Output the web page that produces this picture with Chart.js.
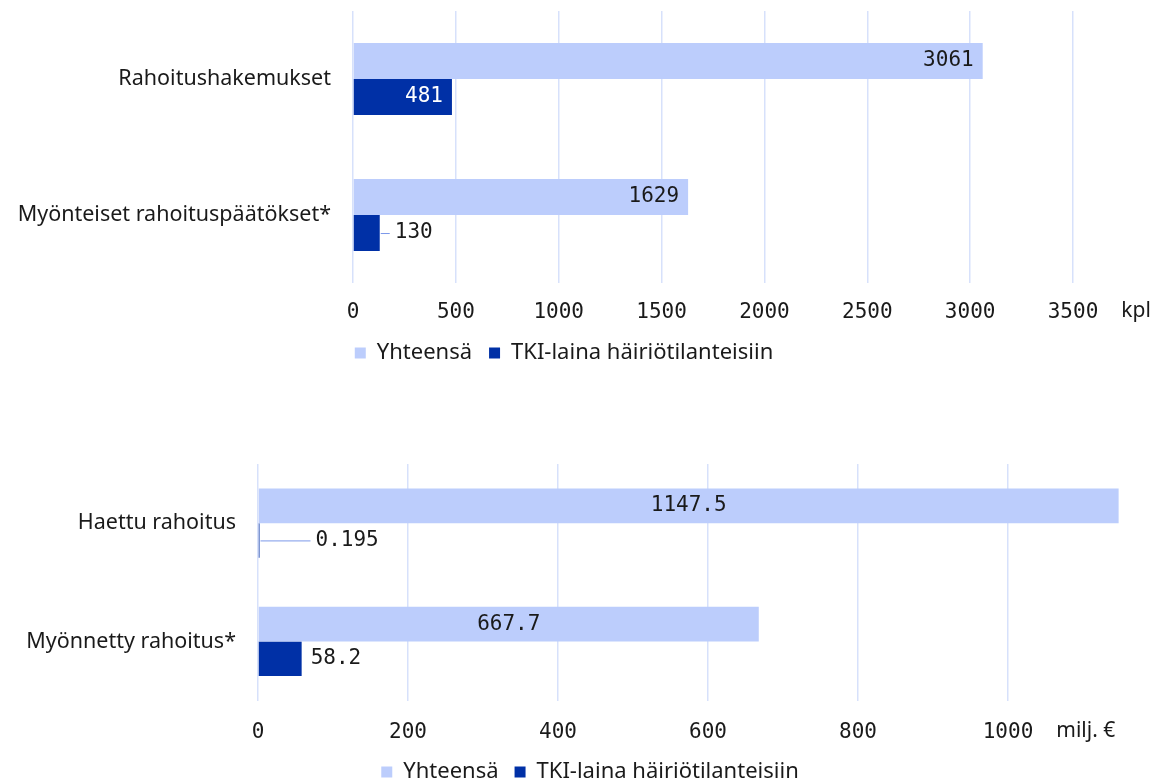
<!DOCTYPE html>
<html lang="fi">
<head>
    <meta charset="UTF-8">
    <title>TKI-laina häiriötilanteisiin</title>
    <script src="https://cdn.jsdelivr.net/npm/chart.js"></script>
    <style>
        body { margin: 0; overflow: hidden; background: #fff; }
        .box { position: absolute; left: 0; }
        #box1 { top: 0; width: 1153px; height: 374px; }
        #box2 { top: 440px; width: 1180px; height: 353px; }
    </style>
</head>
<body>

    <div class="box" id="box1"><canvas id="kplChart"></canvas></div>
    <div class="box" id="box2"><canvas id="euroChart"></canvas></div>

    <script>
        // data
        const seriesNames = ["Yhteensä", "TKI-laina häiriötilanteisiin"];

        const kplCategories = ["Rahoitushakemukset", "Myönteiset rahoituspäätökset*"];
        const kplTotal = [3061, 1629];
        const kplTki = [481, 130];
        const kplMax = 3500;
        const kplStep = 500;
        const kplUnit = "kpl";

        const euroCategories = ["Haettu rahoitus", "Myönnetty rahoitus*"];
        const euroTotal = [1147.5, 667.7];
        const euroTki = [0.195, 58.2];
        const euroMax = 1150;
        const euroStep = 200;
        const euroUnit = "milj. €";

        const lightBlue = "#bccdfc";
        const darkBlue = "#0030a6";
        const gridBlue = "#d7e1fb";
        const textColor = "#1a1a1a";
        const monoFont = '"DejaVu Sans Mono", monospace';
        const sansFont = '"Noto Sans", sans-serif';

        // value labels + unit text next to the x ticks
        const barLabels = {
            id: "barLabels",
            afterDatasetsDraw(chart, args, opts) {
                const ctx = chart.ctx;
                ctx.save();
                ctx.font = "21px " + monoFont;
                ctx.textBaseline = "middle";
                chart.data.datasets.forEach((ds, di) => {
                    const st = opts.styles[di];
                    chart.getDatasetMeta(di).data.forEach((bar, i) => {
                        const text = String(ds.data[i]);
                        const w = ctx.measureText(text).width;
                        const len = bar.x - bar.base;
                        const y = bar.y;
                        if (w + 18 <= len) {
                            ctx.fillStyle = st.color;
                            if (st.anchor === "center") {
                                ctx.textAlign = "center";
                                ctx.fillText(text, (bar.x + bar.base) / 2, y);
                            } else {
                                ctx.textAlign = "right";
                                ctx.fillText(text, bar.x - 9, y);
                            }
                        } else {
                            // too short: put the value after the bar
                            const leader = (st.leader || [])[i] || 0;
                            let x = bar.x + 9;
                            if (leader > 0) {
                                ctx.strokeStyle = "#7b98ea";
                                ctx.lineWidth = 1;
                                ctx.beginPath();
                                ctx.moveTo(bar.x + 1, y + 0.5);
                                ctx.lineTo(bar.x + 1 + leader, y + 0.5);
                                ctx.stroke();
                                x = bar.x + 1 + leader + 5;
                            }
                            ctx.fillStyle = textColor;
                            ctx.textAlign = "left";
                            ctx.fillText(text, x, y);
                        }
                    });
                });
                ctx.restore();
            },
            afterDraw(chart, args, opts) {
                const sc = chart.scales.x;
                const ctx = chart.ctx;
                const last = sc.ticks.length - 1;
                ctx.save();
                ctx.font = "21px " + monoFont;
                const lw = ctx.measureText(String(sc.ticks[last].value)).width;
                const x = sc.getPixelForTick(last) + lw / 2 + 23;
                ctx.font = "21px " + sansFont;
                ctx.fillStyle = textColor;
                ctx.textAlign = "left";
                ctx.textBaseline = "middle";
                ctx.fillText(opts.unit, x, chart.chartArea.bottom + opts.unitDy);
                ctx.restore();
            }
        };

        function makeChart(id, cats, total, tki, max, step, cfg) {
            const ctx = document.getElementById(id).getContext("2d");
            return new Chart(ctx, {
                type: "bar",
                data: {
                    labels: cats,
                    datasets: [
                        { label: seriesNames[0], data: total, backgroundColor: lightBlue, borderWidth: 0 },
                        { label: seriesNames[1], data: tki, backgroundColor: darkBlue, borderWidth: 0, minBarLength: 1.5 }
                    ]
                },
                options: {
                    indexAxis: "y",
                    responsive: true,
                    maintainAspectRatio: false,
                    animation: false,
                    categoryPercentage: cfg.catPct,
                    barPercentage: 1,
                    layout: { padding: cfg.padding },
                    scales: {
                        x: {
                            min: 0,
                            max: max,
                            border: { display: false },
                            grid: { color: gridBlue, lineWidth: 1.5, drawTicks: false },
                            ticks: {
                                stepSize: step,
                                includeBounds: false,
                                padding: cfg.tickPad,
                                color: textColor,
                                font: { family: monoFont, size: 21 },
                                callback: v => String(v)
                            },
                            afterFit: s => { s.height = cfg.tickPad + 25.2; }
                        },
                        y: {
                            border: { display: false },
                            grid: { display: false, drawTicks: false },
                            ticks: {
                                padding: 22,
                                color: textColor,
                                font: { family: sansFont, size: 21.5 }
                            },
                            afterFit: s => {
                                s.width = cfg.yWidth;
                                s.paddingTop = 0;
                                s.paddingBottom = 0;
                            }
                        },
                        // empty right-hand axis, keeps room for the unit text
                        y2: {
                            position: "right",
                            border: { display: false },
                            grid: { display: false, drawTicks: false },
                            ticks: { display: false },
                            afterFit: s => {
                                s.width = cfg.rightWidth;
                                s.paddingTop = 0;
                                s.paddingBottom = 0;
                            }
                        }
                    },
                    plugins: {
                        tooltip: { enabled: false },
                        legend: {
                            position: "bottom",
                            labels: {
                                boxWidth: 11,
                                boxHeight: 11,
                                padding: cfg.legendPad,
                                color: textColor,
                                font: { family: sansFont, size: 22 }
                            }
                        },
                        barLabels: {
                            unit: cfg.unit,
                            unitDy: cfg.unitDy,
                            styles: cfg.styles
                        }
                    }
                },
                plugins: [barLabels]
            });
        }

        makeChart("kplChart", kplCategories, kplTotal, kplTki, kplMax, kplStep, {
            catPct: 0.53,
            padding: { top: 11, left: 0, right: 25, bottom: 0 },
            tickPad: 16.8,
            yWidth: 353,
            rightWidth: 55,
            legendPad: 17,
            unit: kplUnit,
            unitDy: 28,
            styles: [
                { anchor: "end", color: textColor },
                { anchor: "end", color: "#ffffff", leader: [0, 9] }
            ]
        });

        makeChart("euroChart", euroCategories, euroTotal, euroTki, euroMax, euroStep, {
            catPct: 0.585,
            padding: { top: 24, left: 0, right: 0, bottom: 0 },
            tickPad: 19.3,
            yWidth: 258,
            rightWidth: 59.5,
            legendPad: 16,
            unit: euroUnit,
            unitDy: 30.5,
            styles: [
                { anchor: "center", color: textColor },
                { anchor: "end", color: "#ffffff", leader: [50, 0] }
            ]
        });
    </script>

</body>
</html>
